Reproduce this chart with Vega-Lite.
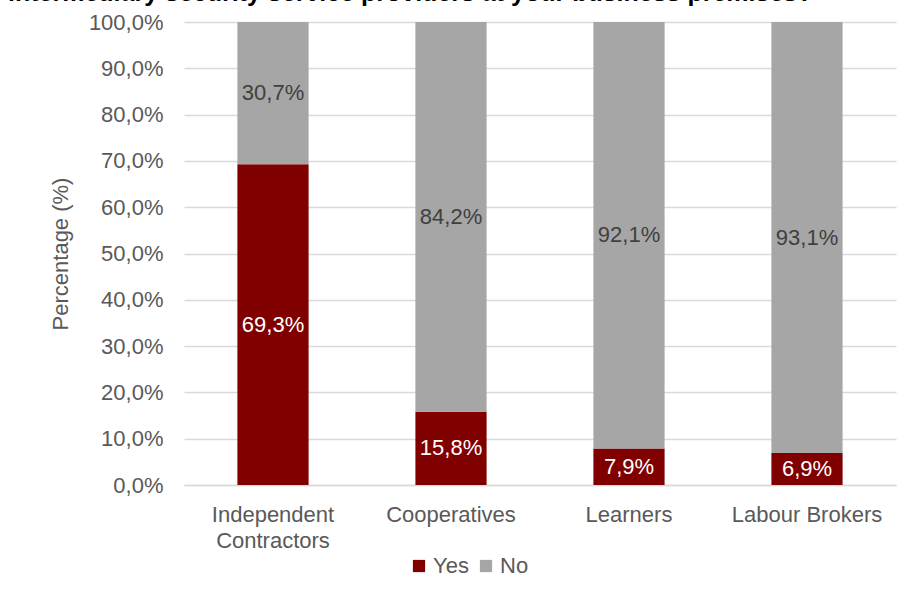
{
  "$schema": "https://vega.github.io/schema/vega-lite/v6.json",
  "width": 712,
  "height": 463,
  "autosize": {"type": "none"},
  "padding": {"left": 184, "top": 22, "right": 21, "bottom": 114},
  "background": "white",
  "title": {
    "text": "intermediary security service providers at your business premises?",
    "anchor": "start",
    "frame": "group",
    "dx": -176,
    "dy": 15,
    "offset": 0,
    "baseline": "alphabetic",
    "font": "Liberation Sans",
    "fontSize": 25,
    "fontWeight": "bold",
    "color": "black"
  },
  "data": {
    "values": [
      {"category": "Independent Contractors", "response": "Yes", "order": 1, "value": 69.3},
      {"category": "Independent Contractors", "response": "No", "order": 2, "value": 30.7},
      {"category": "Cooperatives", "response": "Yes", "order": 1, "value": 15.8},
      {"category": "Cooperatives", "response": "No", "order": 2, "value": 84.2},
      {"category": "Learners", "response": "Yes", "order": 1, "value": 7.9},
      {"category": "Learners", "response": "No", "order": 2, "value": 92.1},
      {"category": "Labour Brokers", "response": "Yes", "order": 1, "value": 6.9},
      {"category": "Labour Brokers", "response": "No", "order": 2, "value": 93.1}
    ]
  },
  "transform": [
    {"stack": "value", "groupby": ["category"], "sort": [{"field": "order"}], "as": ["v0", "v1"]},
    {"calculate": "(datum.v0 + datum.v1) / 2", "as": "mid"},
    {"calculate": "replace(format(datum.value, '.1f'), '.', ',') + '%'", "as": "label"}
  ],
  "encoding": {
    "x": {
      "field": "category",
      "type": "nominal",
      "sort": ["Independent Contractors", "Cooperatives", "Learners", "Labour Brokers"],
      "scale": {"paddingInner": 0.6, "paddingOuter": 0.3},
      "axis": {
        "title": null,
        "labelAngle": 0,
        "labelFont": "Liberation Sans",
        "labelFontSize": 22,
        "labelColor": "#595959",
        "labelPadding": 19,
        "labelLineHeight": 26,
        "labelExpr": "datum.label == 'Independent Contractors' ? ['Independent', 'Contractors'] : datum.label",
        "ticks": false,
        "domain": true,
        "domainColor": "#D9D9D9",
        "domainWidth": 1.5,
        "grid": false
      }
    }
  },
  "layer": [
    {
      "mark": {"type": "bar"},
      "encoding": {
        "y": {
          "field": "v0",
          "type": "quantitative",
          "scale": {"domain": [0, 100]},
          "axis": {
            "title": "Percentage (%)",
            "titleFont": "Liberation Sans",
            "titleFontSize": 22,
            "titleFontWeight": "normal",
            "titleColor": "#595959",
            "titlePadding": 16,
            "values": [0, 10, 20, 30, 40, 50, 60, 70, 80, 90, 100],
            "labelExpr": "replace(format(datum.value, '.1f'), '.', ',') + '%'",
            "labelFont": "Liberation Sans",
            "labelFontSize": 22,
            "labelColor": "#595959",
            "labelPadding": 21,
            "ticks": false,
            "domain": false,
            "grid": true,
            "gridColor": "#D9D9D9",
            "gridWidth": 1.5
          }
        },
        "y2": {"field": "v1"},
        "color": {
          "field": "response",
          "type": "nominal",
          "sort": ["Yes", "No"],
          "scale": {"domain": ["Yes", "No"], "range": ["#800000", "#A6A6A6"]},
          "legend": {
            "title": null,
            "orient": "none",
            "direction": "horizontal",
            "legendX": 224,
            "legendY": 533,
            "symbolType": "square",
            "symbolSize": 150,
            "symbolStrokeWidth": 0,
            "symbolOpacity": 1,
            "labelFont": "Liberation Sans",
            "labelFontSize": 22,
            "labelColor": "#595959",
            "labelOffset": 3,
            "columnPadding": 6
          }
        }
      }
    },
    {
      "mark": {"type": "text", "font": "Liberation Sans", "fontSize": 22, "baseline": "middle"},
      "encoding": {
        "y": {"field": "mid", "type": "quantitative"},
        "text": {"field": "label", "type": "nominal"},
        "color": {
          "condition": {"test": "datum.response == 'Yes'", "value": "white"},
          "value": "#404040"
        }
      }
    }
  ],
  "config": {"view": {"stroke": null}}
}
